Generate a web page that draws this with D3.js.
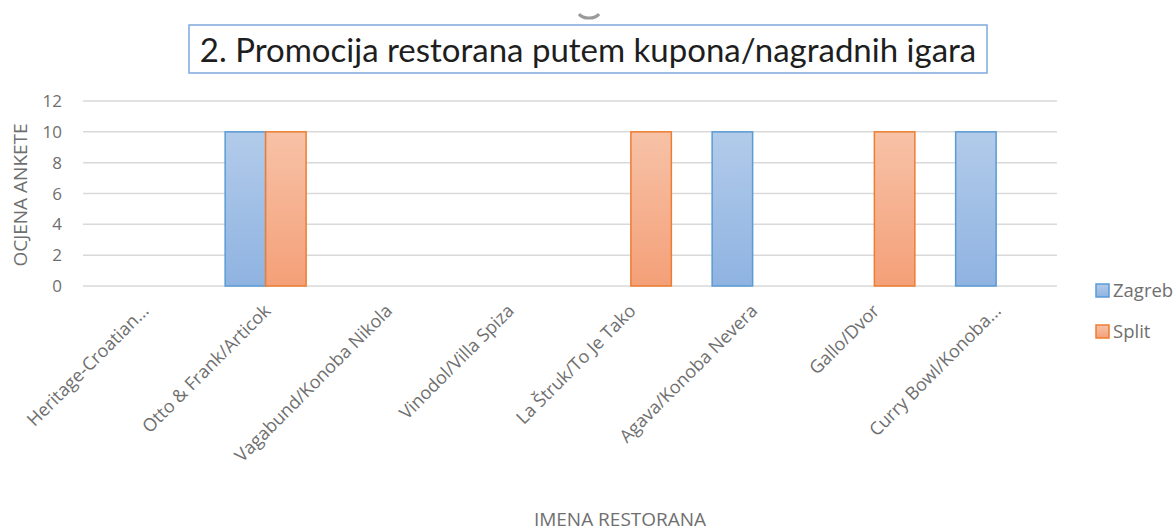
<!DOCTYPE html>
<html>
<head>
<meta charset="utf-8">
<script src="https://cdn.jsdelivr.net/npm/d3@7"></script>
<style>
  body { margin: 0; background: #fff; }
  svg { display: block; }
</style>
</head>
<body>
<div id="chart"></div>
<script>
var categories = ["Heritage-Croatian...", "Otto & Frank/Articok", "Vagabund/Konoba Nikola", "Vinodol/Villa Spiza",
  "La Štruk/To Je Tako", "Agava/Konoba Nevera", "Gallo/Dvor", "Curry Bowl/Konoba..."]
var seriesNames = ["Zagreb", "Split"]
var zagreb = [0, 10, 0, 0, 0, 10, 0, 10]
var split = [0, 10, 0, 0, 10, 0, 10, 0]
var yTicks = [0, 2, 4, 6, 8, 10, 12]

var W = 1176, H = 531
var plotL = 83, plotR = 1057, plotT = 101, plotB = 286
var labelFont = "'Open Sans', sans-serif"
var gray = "#6f6f6f"

var svg = d3.select("#chart").append("svg").attr("width", W).attr("height", H)

var defs = svg.append("defs")
var grads = [
  {id: "gZagreb", top: "#b2cbea", bot: "#8fb3e1", stroke: "#5b9bd5"},
  {id: "gSplit", top: "#f7c2a7", bot: "#f4a078", stroke: "#ed7d31"}
]
grads.forEach(function(g) {
  var lg = defs.append("linearGradient").attr("id", g.id)
    .attr("x1", 0).attr("y1", 0).attr("x2", 0).attr("y2", 1)
  lg.append("stop").attr("offset", "0%").attr("stop-color", g.top)
  lg.append("stop").attr("offset", "100%").attr("stop-color", g.bot)
})

var x = d3.scaleBand().domain(categories).range([plotL, plotR]).paddingInner(0.335).paddingOuter(0.1675)
var xs = d3.scaleBand().domain(seriesNames).range([0, x.bandwidth()])
var y = d3.scaleLinear().domain([0, 12]).range([plotB, plotT])

// gridlines
svg.append("g").selectAll("line").data(yTicks).join("line")
  .attr("x1", plotL).attr("x2", plotR)
  .attr("y1", function(d) { return y(d) }).attr("y2", function(d) { return y(d) })
  .attr("stroke", "#d9d9d9").attr("stroke-width", 1.5)

// y labels
svg.append("g").selectAll("text").data(yTicks).join("text")
  .attr("x", 62).attr("y", function(d) { return y(d) })
  .attr("dy", "0.36em")
  .attr("text-anchor", "end")
  .attr("font-family", labelFont).attr("font-size", 17).attr("fill", gray)
  .text(function(d) { return d })

// bars
var rows = []
categories.forEach(function(c, i) {
  rows.push({cat: c, s: "Zagreb", v: zagreb[i], g: grads[0]})
  rows.push({cat: c, s: "Split", v: split[i], g: grads[1]})
})
svg.append("g").selectAll("rect").data(rows.filter(function(d) { return d.v > 0 })).join("rect")
  .attr("x", function(d) { return x(d.cat) + xs(d.s) })
  .attr("y", function(d) { return y(d.v) })
  .attr("width", xs.bandwidth())
  .attr("height", function(d) { return y(0) - y(d.v) })
  .attr("fill", function(d) { return "url(#" + d.g.id + ")" })
  .attr("stroke", function(d) { return d.g.stroke })
  .attr("stroke-width", 1.5)

// x labels rotated
svg.append("g").selectAll("text").data(categories).join("text")
  .attr("transform", function(d) { return "translate(" + (x(d) + x.bandwidth() / 2 + 6) + "," + 312 + ") rotate(-45)" })
  .attr("text-anchor", "end")
  .attr("font-family", labelFont).attr("font-size", 18).attr("fill", gray)
  .text(function(d) { return d })

// axis titles
svg.append("text")
  .attr("transform", "translate(27,195) rotate(-90)")
  .attr("text-anchor", "middle")
  .attr("font-family", labelFont).attr("font-size", 19).attr("fill", gray)
  .text("OCJENA ANKETE")

svg.append("text")
  .attr("x", 620).attr("y", 526)
  .attr("text-anchor", "middle")
  .attr("font-family", labelFont).attr("font-size", 19).attr("fill", gray)
  .text("IMENA RESTORANA")

// title box
svg.append("rect").attr("x", 189).attr("y", 25).attr("width", 798).attr("height", 48)
  .attr("fill", "#fff").attr("stroke", "#7ea8dc").attr("stroke-width", 1.5)
svg.append("text")
  .attr("x", 588).attr("y", 62)
  .attr("text-anchor", "middle")
  .attr("font-family", "Lato, sans-serif").attr("font-size", 33).attr("fill", "#1e1e1e")
  .text("2. Promocija restorana putem kupona/nagradnih igara")

// small handle arc above title
svg.append("path").attr("d", "M579,14 A11,7 0 0 0 599,14")
  .attr("fill", "none").attr("stroke", "#9a9a9a").attr("stroke-width", 3)

// legend
var leg = svg.append("g").selectAll("g").data(seriesNames).join("g")
  .attr("transform", function(d, i) { return "translate(1096," + (284 + i * 41) + ")" })
leg.append("rect").attr("width", 13).attr("height", 13)
  .attr("fill", function(d, i) { return "url(#" + grads[i].id + ")" })
  .attr("stroke", function(d, i) { return grads[i].stroke }).attr("stroke-width", 1.5)
leg.append("text").attr("x", 17).attr("y", 13)
  .attr("font-family", labelFont).attr("font-size", 18.5).attr("fill", gray)
  .text(function(d) { return d })
</script>
</body>
</html>
